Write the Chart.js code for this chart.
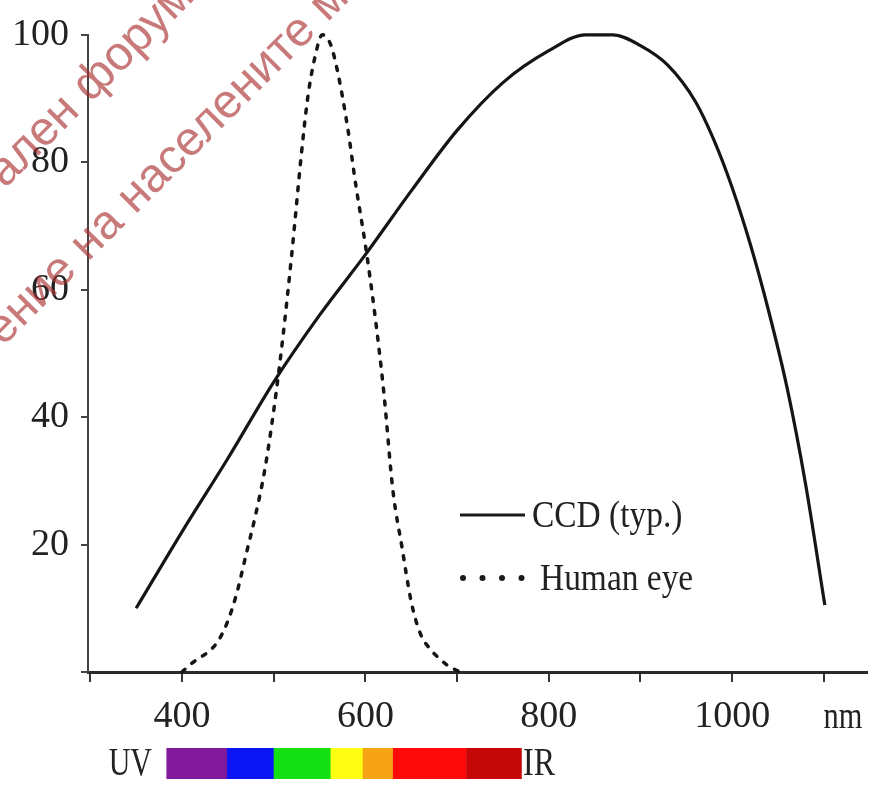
<!DOCTYPE html>
<html>
<head>
<meta charset="utf-8">
<style>
  html, body { margin: 0; padding: 0; background: #fff; }
  #wrap { width: 873px; height: 785px; }
</style>
<script src="https://cdn.jsdelivr.net/npm/chart.js@4/dist/chart.umd.min.js"></script>
</head>
<body>
<div id="wrap"><canvas id="c" width="873" height="785"></canvas></div>
<script>
// ---- data ----
const ccdNm  = [350, 400, 450, 500, 550, 600, 650, 700, 750, 800, 840, 870, 900, 930, 960, 980, 1000, 1020, 1040, 1060, 1080, 1101];
const ccdVal = [10, 22, 33.5, 45.5, 56, 65.5, 75.5, 85, 92.5, 97.5, 100, 100, 98.3, 95.2, 89.5, 83.5, 76, 67, 56.5, 44.5, 29.5, 10.5];

const eyeNm  = [400, 410, 420, 430, 440, 450, 460, 470, 480, 490, 500, 510, 520, 530, 537, 545, 553, 562, 570, 580, 590, 600, 610, 620, 630, 640, 650, 660, 670, 680, 690, 703];
const eyeVal = [0, 1.3, 2.3, 3.3, 5, 8, 12.5, 18.5, 24.5, 31.5, 41, 52.5, 66, 81, 90, 96.5, 100, 98.5, 94, 86, 76, 67, 56.5, 44, 28.5, 19.5, 11, 6, 3.7, 2.2, 1, 0];

const xTickLabels = [400, 600, 800, 1000];
const yTickLabels = [20, 40, 60, 80, 100];
const seriesNames = ['CCD (typ.)', 'Human eye'];

const bandEdges  = [383, 449, 500, 562, 597, 630, 710, 770];
const bandColors = ['#80199c', '#0b14f2', '#14e014', '#ffff14', '#f7a414', '#ff0a0a', '#c40808'];

const watermarkLines = ['ален форум', 'ение на населените м'];

// ---- chart ----
const SERIF = '"Liberation Serif", "Times New Roman", serif';

const overlay = {
  id: 'overlay',
  afterDraw(chart) {
    const ctx = chart.ctx;
    const xs = chart.scales.x;

    // "nm" unit label
    ctx.save();
    ctx.fillStyle = '#222';
    ctx.font = '38px ' + SERIF;
    ctx.textAlign = 'center';
    ctx.textBaseline = 'middle';
    ctx.translate(843, 718);
    ctx.scale(0.8, 1);
    ctx.fillText('nm', 0, 0);
    ctx.restore();

    // legend
    ctx.save();
    ctx.strokeStyle = '#1a1a1a';
    ctx.lineWidth = 3;
    ctx.beginPath();
    ctx.moveTo(460, 515); ctx.lineTo(525, 515);
    ctx.stroke();
    ctx.fillStyle = '#1a1a1a';
    for (let i = 0; i < 4; i++) {
      ctx.beginPath();
      ctx.arc(463 + i * 19.5, 578, 3, 0, Math.PI * 2);
      ctx.fill();
    }
    ctx.fillStyle = '#222';
    ctx.font = '38px ' + SERIF;
    ctx.textBaseline = 'middle';
    ctx.save(); ctx.translate(532, 517); ctx.scale(0.88, 1); ctx.fillText(seriesNames[0], 0, 0); ctx.restore();
    ctx.save(); ctx.translate(540, 580); ctx.scale(0.88, 1); ctx.fillText(seriesNames[1], 0, 0); ctx.restore();
    ctx.restore();

    // spectrum bar
    ctx.save();
    for (let i = 0; i < bandColors.length; i++) {
      const x0 = xs.getPixelForValue(bandEdges[i]);
      const x1 = xs.getPixelForValue(bandEdges[i + 1]);
      ctx.fillStyle = bandColors[i];
      ctx.fillRect(x0, 748, x1 - x0 + 0.5, 31);
    }
    ctx.fillStyle = '#222';
    ctx.font = '40px ' + SERIF;
    ctx.textBaseline = 'middle';
    ctx.save(); ctx.translate(152, 764); ctx.scale(0.75, 1); ctx.textAlign = 'right'; ctx.fillText('UV', 0, 0); ctx.restore();
    ctx.save(); ctx.translate(523, 764); ctx.scale(0.8, 1); ctx.textAlign = 'left'; ctx.fillText('IR', 0, 0); ctx.restore();
    ctx.restore();

    // watermark
    ctx.save();
    ctx.fillStyle = 'rgba(170, 50, 50, 0.65)';
    ctx.font = '48px "Liberation Sans", Arial, sans-serif';
    ctx.textBaseline = 'alphabetic';
    ctx.save(); ctx.translate(5, 189); ctx.rotate(-Math.PI / 4); ctx.fillText(watermarkLines[0], 0, 0); ctx.restore();
    ctx.save(); ctx.translate(3, 347); ctx.rotate(-Math.PI / 4); ctx.fillText(watermarkLines[1], 0, 0); ctx.restore();
    ctx.restore();
  }
};

new Chart(document.getElementById('c'), {
  type: 'line',
  data: {
    datasets: [
      {
        label: seriesNames[0],
        data: ccdNm.map((x, i) => ({ x, y: ccdVal[i] })),
        borderColor: '#151515',
        borderWidth: 3.2,
        pointRadius: 0,
        cubicInterpolationMode: 'monotone',
        fill: false,
        clip: false
      },
      {
        label: seriesNames[1],
        data: eyeNm.map((x, i) => ({ x, y: eyeVal[i] })),
        borderColor: '#151515',
        borderWidth: 3.5,
        borderDash: [4, 9],
        borderCapStyle: 'round',
        pointRadius: 0,
        cubicInterpolationMode: 'monotone',
        fill: false,
        clip: false
      }
    ]
  },
  options: {
    responsive: false,
    animation: false,
    events: [],
    layout: { padding: { top: 30, right: 6, left: 0, bottom: 0 } },
    plugins: { legend: { display: false }, tooltip: { enabled: false } },
    scales: {
      x: {
        type: 'linear',
        min: 297.5,
        max: 1147,
        afterFit(s) { s.height = 113; },
        ticks: {
          stepSize: 100,
          includeBounds: false,
          autoSkip: false,
          maxRotation: 0,
          padding: 12,
          color: '#222',
          font: { family: SERIF, size: 38 },
          callback: v => xTickLabels.includes(v) ? String(v) : ''
        },
        grid: { drawOnChartArea: false, drawTicks: true, tickLength: 10, color: '#333', lineWidth: 2 },
        border: { display: true, color: '#2a2a2a', width: 3 }
      },
      y: {
        type: 'linear',
        min: 0,
        max: 100,
        afterFit(s) { s.width = 88; },
        ticks: {
          stepSize: 20,
          padding: 12,
          color: '#222',
          font: { family: SERIF, size: 38 },
          callback: v => yTickLabels.includes(v) ? String(v) : ''
        },
        grid: { drawOnChartArea: false, drawTicks: true, tickLength: 7, color: '#444', lineWidth: 2 },
        border: { display: true, color: '#444', width: 2 }
      }
    }
  },
  plugins: [overlay]
});
</script>
</body>
</html>
